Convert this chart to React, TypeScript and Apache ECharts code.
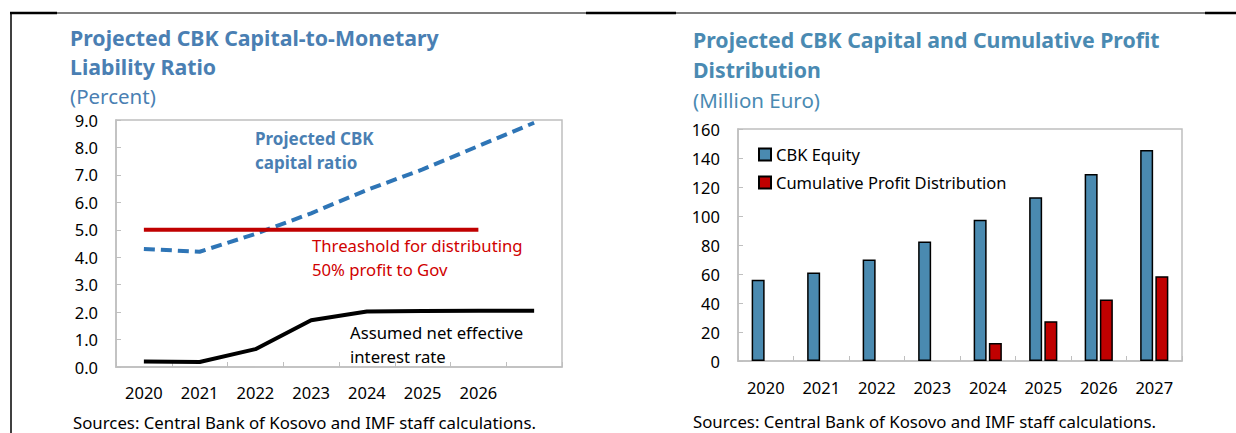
import React, { useEffect, useRef } from 'react';
import * as echarts from 'echarts';

const YEARS = ['2020', '2021', '2022', '2023', '2024', '2025', '2026', '2027'];
const LEFT_HIDDEN_LABEL = '2027';
const CAPITAL_RATIO = [4.3, 4.2, 4.85, 5.6, 6.45, 7.2, 8.05, 8.9];
const THRESHOLD = [5, 5, 5, 5, 5, 5, 5, null];
const NET_RATE = [0.2, 0.18, 0.65, 1.7, 2.02, 2.04, 2.05, 2.05];
const CBK_EQUITY = [56, 61, 70, 82.5, 97.5, 113, 129, 145.5];
const PROFIT_DIST = [null, null, null, null, 12.5, 27.5, 42.5, 58.5];

const LEFT_TITLE = ['Projected CBK Capital-to-Monetary', 'Liability Ratio'];
const LEFT_UNIT = '(Percent)';
const RIGHT_TITLE = ['Projected CBK Capital and Cumulative Profit', 'Distribution'];
const RIGHT_UNIT = '(Million Euro)';
const SOURCE = 'Sources: Central Bank of Kosovo and IMF staff calculations.';
const NOTE_CAPITAL = ['Projected CBK', 'capital ratio'];
const NOTE_THRESHOLD = ['Threashold for distributing', '50% profit to Gov'];
const NOTE_RATE = ['Assumed net effective', 'interest rate'];

const FONT = '"Noto Sans", "Open Sans", sans-serif';
const GRAY = '#bfbfbf';
const LEFT_BLUE = '#4a7fb3';
const RIGHT_BLUE = '#4a8ab2';

function txt(text: string, x: number, y: number, size: number, color: string, weight: any = 'normal') {
  return {
    type: 'text',
    x,
    y,
    style: { text, fontSize: size, fontFamily: FONT, fill: color, fontWeight: weight, textVerticalAlign: 'middle', textAlign: 'left' },
  };
}

function line(x1: number, y1: number, x2: number, y2: number, w: number) {
  return { type: 'line', shape: { x1, y1, x2, y2 }, style: { stroke: '#000', lineWidth: w } };
}

export default function App() {
  const ref = useRef<HTMLDivElement>(null);
  useEffect(() => {
    document.body.style.margin = '0';
    const chart = echarts.init(ref.current!, null, { renderer: 'svg' });
    const catAxis = (grid: number, hideLast: boolean, margin: number) => ({
      type: 'category',
      gridIndex: grid,
      data: YEARS,
      boundaryGap: true,
      axisLine: { show: true, lineStyle: { color: GRAY, width: 1.5 } },
      axisTick: { show: true, inside: true, length: 5, lineStyle: { color: GRAY, width: 1 } },
      axisLabel: {
        fontSize: 16.5,
        fontFamily: FONT,
        color: '#000',
        margin,
        formatter: (v: string) => (hideLast && v === LEFT_HIDDEN_LABEL ? '' : v),
      },
    });
    const valAxis = (grid: number, max: number, interval: number, digits: number) => ({
      type: 'value',
      gridIndex: grid,
      min: 0,
      max,
      interval,
      axisLine: { show: true, lineStyle: { color: GRAY, width: 1.5 } },
      axisTick: { show: true, inside: true, length: 5, lineStyle: { color: GRAY, width: 1 } },
      splitLine: { show: false },
      axisLabel: {
        fontSize: 16.5,
        fontFamily: FONT,
        color: '#000',
        margin: 18,
        formatter: (v: number) => v.toFixed(digits),
      },
    });
    chart.setOption({
      animation: false,
      backgroundColor: '#fff',
      grid: [
        { left: 116, top: 120, width: 446, height: 247, show: true, borderColor: GRAY, borderWidth: 1.5 },
        { left: 738, top: 129, width: 444, height: 232, show: true, borderColor: GRAY, borderWidth: 1.5 },
      ],
      xAxis: [catAxis(0, true, 17), catAxis(1, false, 18)],
      yAxis: [valAxis(0, 9, 1, 1), valAxis(1, 160, 20, 0)],
      legend: {
        orient: 'vertical',
        left: 753,
        top: 141,
        itemWidth: 12,
        itemHeight: 12,
        itemGap: 11,
        icon: 'rect',
        textStyle: { fontSize: 16.5, fontFamily: FONT, color: '#000' },
        data: ['CBK Equity', 'Cumulative Profit Distribution'],
      },
      series: [
        {
          name: 'Capital ratio',
          type: 'line',
          xAxisIndex: 0,
          yAxisIndex: 0,
          data: CAPITAL_RATIO,
          showSymbol: false,
          lineStyle: { color: '#2e75b6', width: 4, type: [11, 6] },
        },
        {
          name: 'Threshold',
          type: 'line',
          xAxisIndex: 0,
          yAxisIndex: 0,
          data: THRESHOLD,
          showSymbol: false,
          lineStyle: { color: '#c00000', width: 4 },
        },
        {
          name: 'Net rate',
          type: 'line',
          xAxisIndex: 0,
          yAxisIndex: 0,
          data: NET_RATE,
          showSymbol: false,
          lineStyle: { color: '#000', width: 4 },
        },
        {
          name: 'CBK Equity',
          type: 'bar',
          xAxisIndex: 1,
          yAxisIndex: 1,
          data: CBK_EQUITY,
          barWidth: 13,
          barGap: '17%',
          itemStyle: { color: '#4a8ab0', borderColor: '#000', borderWidth: 1.5 },
        },
        {
          name: 'Cumulative Profit Distribution',
          type: 'bar',
          xAxisIndex: 1,
          yAxisIndex: 1,
          data: PROFIT_DIST,
          barWidth: 13,
          barGap: '17%',
          itemStyle: { color: '#c00000', borderColor: '#000', borderWidth: 1.5 },
        },
      ],
      graphic: [
        line(11, 13, 11, 433, 1.5),
        line(10, 13, 57, 13, 2.5),
        line(57, 13, 586, 13, 1.2),
        line(586, 13, 676, 13, 2.5),
        line(676, 13, 1205, 13, 1.2),
        line(1205, 13, 1236, 13, 2.5),
        txt(LEFT_TITLE[0], 70, 37, 21.3, LEFT_BLUE, 'bold'),
        txt(LEFT_TITLE[1], 70, 66, 21.3, LEFT_BLUE, 'bold'),
        txt(LEFT_UNIT, 70, 96, 20.5, LEFT_BLUE),
        txt(RIGHT_TITLE[0], 693, 39, 21.3, RIGHT_BLUE, 'bold'),
        txt(RIGHT_TITLE[1], 693, 69, 21.3, RIGHT_BLUE, 'bold'),
        txt(RIGHT_UNIT, 693, 100, 20.5, RIGHT_BLUE),
        txt(NOTE_CAPITAL[0], 255, 138, 17, LEFT_BLUE, 'bold'),
        txt(NOTE_CAPITAL[1], 255, 162, 17, LEFT_BLUE, 'bold'),
        txt(NOTE_THRESHOLD[0], 312, 245, 16.7, '#d00000'),
        txt(NOTE_THRESHOLD[1], 312, 269, 16.7, '#d00000'),
        txt(NOTE_RATE[0], 350, 332, 16.7, '#000'),
        txt(NOTE_RATE[1], 350, 356, 16.7, '#000'),
        txt(SOURCE, 73, 422, 16.8, '#000'),
        txt(SOURCE, 693, 421, 16.8, '#000'),
      ],
    });
    return () => chart.dispose();
  }, []);
  return <div ref={ref} style={{ width: 1236, height: 433 }} />;
}
